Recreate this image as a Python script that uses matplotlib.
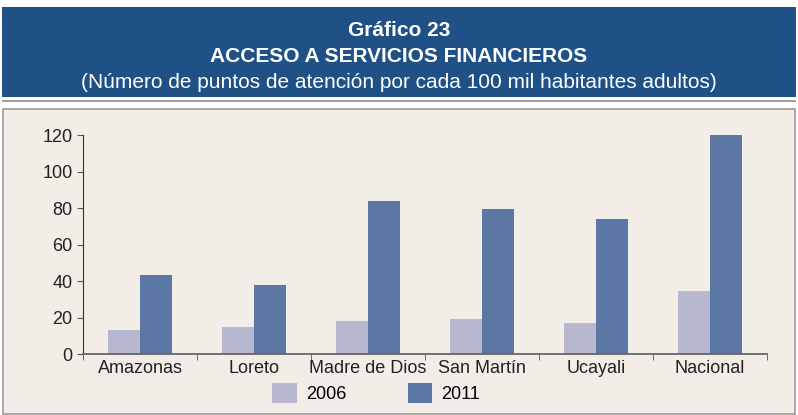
import numpy as np
import matplotlib.pyplot as plt
from matplotlib.patches import Rectangle

plt.rcParams['font.family'] = ['Liberation Sans', 'DejaVu Sans']

# ------------------- data -------------------
regiones = ["Amazonas", "Loreto", "Madre de Dios", "San Martín", "Ucayali", "Nacional"]
valores_2006 = [13.2, 14.8, 17.9, 19.4, 17.0, 34.7]
valores_2011 = [43.3, 37.8, 83.8, 79.3, 74.0, 120.0]
y_ticks = [0, 20, 40, 60, 80, 100, 120]

col_2006 = "#b7b7d0"
col_2011 = "#5b78a4"
banner = "#1f5187"
fondo = "#f2eee7"

W, H = 798, 415
fig = plt.figure(figsize=(W / 100, H / 100), dpi=100)
fig.patch.set_facecolor("white")

def fx(px):
    return px / W

def fy(py):
    return 1 - py / H

# banner with title
fig.patches.append(Rectangle((fx(2), fy(97)), fx(794), 90 / H, transform=fig.transFigure,
                             facecolor=banner, edgecolor="none", zorder=0))
fig.patches.append(Rectangle((fx(2), fy(102)), fx(794), 2 / H, transform=fig.transFigure,
                             facecolor="#a0a0a0", edgecolor="none", zorder=0))
# chart panel
fig.patches.append(Rectangle((fx(3), fy(414)), fx(792), 305 / H, transform=fig.transFigure,
                             facecolor=fondo, edgecolor="#9a9a9a", linewidth=1.2, zorder=0))

fig.text(0.5, fy(31), "Gráfico 23", color="white", fontsize=15, fontweight="bold",
         ha="center", va="center")
fig.text(0.5, fy(57), "ACCESO A SERVICIOS FINANCIEROS", color="white", fontsize=15,
         fontweight="bold", ha="center", va="center")
fig.text(0.5, fy(83), "(Número de puntos de atención por cada 100 mil habitantes adultos)",
         color="white", fontsize=15, ha="center", va="center")

# ------------------- bars -------------------
ax = fig.add_axes([fx(83), fy(354), fx(767 - 83), (354 - 135) / H])
ax.set_zorder(2)
ax.set_facecolor("none")
x = np.arange(len(regiones))
w = 0.285
ax.bar(x - w / 2, valores_2006, w, color=col_2006, label="2006")
ax.bar(x + w / 2, valores_2011, w, color=col_2011, label="2011")

ax.set_xlim(-0.5, len(regiones) - 0.5)
ax.set_ylim(0, 120)
ax.set_yticks(y_ticks)
ax.set_xticks(x)
ax.set_xticklabels(regiones)
ax.set_xticks(np.arange(len(regiones) + 1) - 0.5, minor=True)
ax.tick_params(axis="x", which="major", length=0, pad=4, labelsize=13, colors="#222222")
ax.tick_params(axis="x", which="minor", length=4, color="#555555")
ax.tick_params(axis="y", length=4, color="#555555", labelsize=13, labelcolor="#222222")
for s in ["top", "right"]:
    ax.spines[s].set_visible(False)
ax.spines["left"].set_color("#333333")
ax.spines["bottom"].set_color("#666666")
ax.spines["bottom"].set_linewidth(1.3)

leg = fig.legend(loc="center", bbox_to_anchor=(fx(376), fy(393)), ncol=2, frameon=False,
                 fontsize=13, handlelength=1.35, handleheight=1.35, columnspacing=3.4,
                 handletextpad=0.5)
leg.set_zorder(3)

fig.savefig("out.png", dpi=100, facecolor=fig.get_facecolor())
